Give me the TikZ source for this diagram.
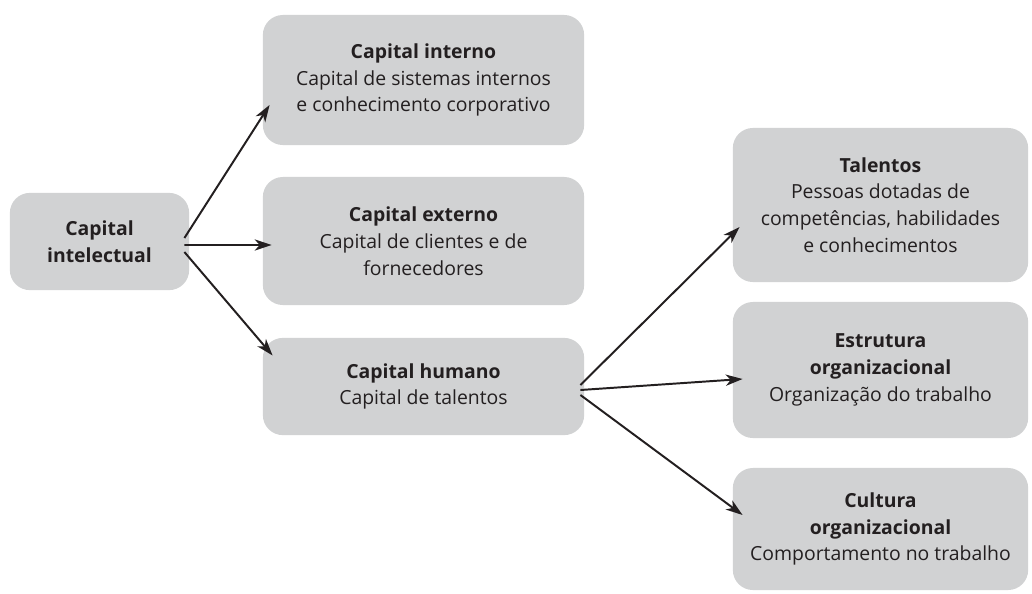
\documentclass[tikz,border=0pt]{standalone}
\usepackage{fontspec}
\setmainfont{Open Sans}
\usetikzlibrary{arrows.meta,calc}

\definecolor{boxgray}{HTML}{D1D2D3}
\definecolor{txtgray}{HTML}{231F20}

\begin{document}
\begin{tikzpicture}[x=0.025cm, y=-0.025cm,
    capbox/.style={rectangle, rounded corners=0.5cm, fill=boxgray, text=txtgray,
        align=center, inner sep=0pt, font=\fontsize{13.8}{19}\selectfont},
    arr/.style={-{Stealth[length=12pt,width=8pt,inset=3.5pt]}, line width=1.4pt, draw=txtgray}]

\useasboundingbox (0,0) rectangle (1032,593);

% root box
\node[capbox, minimum width=4.48cm, minimum height=2.43cm] (intel) at (99.5,241.5)
    {\textbf{Capital}\\\textbf{intelectual}};

% middle column
\node[capbox, minimum width=8.03cm, minimum height=3.25cm] (interno) at (423.5,80)
    {\textbf{Capital interno}\\Capital de sistemas internos\\e conhecimento corporativo};
\node[capbox, minimum width=8.03cm, minimum height=3.2cm] (externo) at (423.5,241)
    {\textbf{Capital externo}\\Capital de clientes e de\\fornecedores};
\node[capbox, minimum width=8.03cm, minimum height=2.43cm] (humano) at (423.5,386.5)
    {\textbf{Capital humano}\\Capital de talentos};

% right column
\node[capbox, minimum width=7.38cm, minimum height=3.85cm] (talentos) at (880.5,205)
    {\textbf{Talentos}\\Pessoas dotadas de\\competências, habilidades\\e conhecimentos};
\node[capbox, minimum width=7.38cm, minimum height=3.4cm] (estrutura) at (880.5,370)
    {\textbf{Estrutura}\\\textbf{organizacional}\\Organização do trabalho};
\node[capbox, minimum width=7.38cm, minimum height=3.05cm] (cultura) at (880.5,529)
    {\textbf{Cultura}\\\textbf{organizacional}\\Comportamento no trabalho};

% arrows out of the root
\foreach \dst/\dy/\ex/\ey in {interno/-3.5/7/25, externo/3.5/9/4, humano/10.5/10/-31} {
    \draw[arr] ($(intel.east)+(-5,\dy)$) -- ($(\dst.west)+(\ex,\ey)$);
}

% arrows out of capital humano
\foreach \dst/\dy/\ex/\ey in {talentos/-1.5/7/22, estrutura/3.5/10/9, cultura/8.5/10/-14} {
    \draw[arr] ($(humano.east)+(-4,\dy)$) -- ($(\dst.west)+(\ex,\ey)$);
}

\end{tikzpicture}
\end{document}
